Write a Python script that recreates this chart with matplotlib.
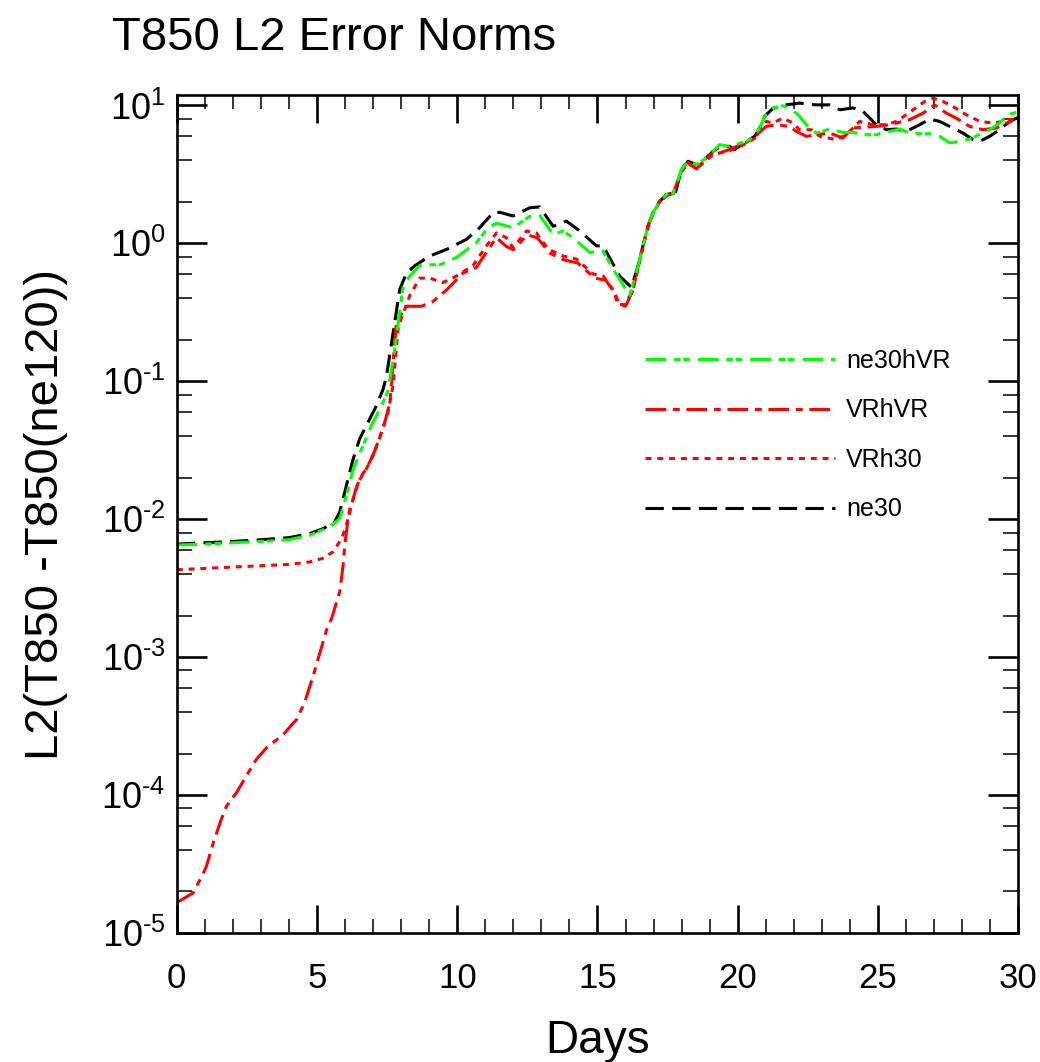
import matplotlib
matplotlib.use("Agg")
import matplotlib.pyplot as plt
import numpy as np
from matplotlib.ticker import LogLocator, MultipleLocator, NullFormatter, FuncFormatter

plt.rcParams['font.family'] = ['Liberation Sans', 'DejaVu Sans']
plt.rcParams['mathtext.fontset'] = 'custom'
plt.rcParams['mathtext.rm'] = 'Liberation Sans'
plt.rcParams['lines.scale_dashes'] = False

# ---- data (days, L2 error) ----
ne30_days = [0, 1, 2, 3, 4, 4.74, 5.22, 5.63, 5.81, 5.93, 6.11, 6.29, 6.52, 6.82, 7.12,
             7.36, 7.48, 7.72, 7.95, 8.19, 8.49, 9.02, 9.62, 10.33, 10.8, 11.28, 11.52,
             11.99, 12.58, 12.94, 13.42, 13.89, 14.37, 14.96, 15.2, 15.79, 16.21, 16.45,
             16.68, 16.8, 16.98, 17.22, 17.46, 17.7, 17.75, 17.99, 18.23, 18.53, 18.88,
             19.12, 19.36, 19.71, 19.89, 20.31, 20.61, 20.78, 20.96, 21.26, 21.73, 22.2,
             22.8, 23.28, 23.64, 24.11, 24.47, 24.71, 24.94, 25.3, 25.66, 26.01, 26.49,
             26.85, 27.2, 27.56, 28.03, 28.39, 28.63, 28.98, 29.34, 29.7, 30]
ne30_vals = [6.6e-3, 6.75e-3, 6.9e-3, 7.1e-3, 7.35e-3, 7.87e-3, 8.55e-3, 9.55e-3, 0.0113,
             0.0141, 0.0197, 0.0274, 0.0383, 0.0505, 0.0667, 0.088, 0.11, 0.23, 0.465, 0.61,
             0.69, 0.81, 0.905, 1.07, 1.30, 1.67, 1.68, 1.58, 1.81, 1.84, 1.33, 1.45, 1.23,
             0.96, 0.96, 0.58, 0.48, 0.69, 1.07, 1.33, 1.67, 2.02, 2.26, 2.32, 2.2, 3.43,
             3.94, 3.72, 4.17, 4.65, 5.0, 5.05, 4.79, 5.5, 5.97, 6.87, 8.33, 9.56, 10.1,
             10.4, 10.1, 10.1, 9.3, 9.6, 9.05, 8.1, 7.25, 6.67, 6.75, 6.49, 7.25, 7.97,
             7.66, 7.05, 6.31, 5.65, 5.5, 5.97, 6.67, 7.66, 8.2]

ne30hVR_days = [0, 1, 2, 3, 4, 4.74, 5.45, 5.81, 6.05, 6.29, 6.64, 6.94, 7.24, 7.53, 7.77,
                8.07, 8.31, 8.66, 8.9, 9.38, 9.97, 10.68, 11.1, 11.4, 11.99, 12.58, 12.94,
                13.42, 13.77, 14.13, 14.72, 15.2, 15.56, 16.15, 16.45, 16.68, 16.8, 16.98,
                17.22, 17.46, 17.7, 17.99, 18.23, 18.53, 18.88, 19.12, 19.36, 19.71, 20.31,
                20.61, 20.78, 20.96, 21.26, 21.61, 21.85, 22.15, 22.45, 22.8, 23.28, 23.75,
                24.11, 24.47, 24.94, 25.42, 25.78, 26.13, 26.61, 26.85, 27.2, 27.56, 27.91,
                28.27, 28.98, 29.34, 29.64, 30]
ne30hVR_vals = [6.5e-3, 6.6e-3, 6.75e-3, 6.9e-3, 7.1e-3, 7.65e-3, 8.8e-3, 0.0101, 0.0149,
                0.0232, 0.0342, 0.0478, 0.063, 0.085, 0.17, 0.49, 0.58, 0.69, 0.70, 0.70,
                0.79, 1.01, 1.30, 1.40, 1.30, 1.57, 1.59, 1.16, 1.23, 1.10, 0.86, 0.88, 0.65,
                0.42, 0.69, 1.07, 1.33, 1.67, 2.02, 2.26, 2.32, 3.43, 3.94, 3.72, 4.17, 4.65,
                5.2, 5.05, 5.5, 5.97, 6.87, 8.33, 9.56, 9.95, 9.56, 8.57, 7.25, 6.3, 6.75,
                6.38, 6.38, 6.14, 6.14, 6.49, 6.75, 6.31, 6.24, 6.24, 5.97, 5.35, 5.5, 5.71,
                6.67, 7.46, 8.57, 9.0]

vrh30_days = [0, 1, 2, 3, 4, 4.74, 5.2, 5.57, 5.87, 6.05, 6.17, 6.29, 6.47, 6.76, 7.0, 7.3,
              7.53, 7.71, 7.9, 8.31, 8.66, 9.02, 9.49, 9.97, 10.56, 11.04, 11.4, 11.75,
              11.99, 12.47, 12.82, 13.24, 13.77, 14.25, 14.84, 15.2, 15.56, 15.73, 15.97,
              16.27, 16.45, 16.68, 16.8, 16.98, 17.22, 17.46, 17.7, 17.99, 18.23, 18.53,
              18.88, 19.12, 19.36, 19.71, 20.31, 20.61, 20.78, 21.02, 21.26, 21.61, 21.97,
              22.2, 22.63, 22.93, 23.52, 23.75, 23.99, 24.35, 24.82, 25.3, 25.66, 26.01,
              26.25, 26.67, 26.96, 27.32, 27.67, 28.15, 28.63, 29.1, 29.46, 29.7, 30]
vrh30_vals = [4.3e-3, 4.4e-3, 4.5e-3, 4.6e-3, 4.7e-3, 4.9e-3, 5.2e-3, 5.8e-3, 7.2e-3, 9.0e-3,
              0.0119, 0.014, 0.0186, 0.0232, 0.029, 0.0428, 0.0597, 0.093, 0.25, 0.42, 0.56,
              0.56, 0.52, 0.58, 0.69, 0.96, 1.19, 1.10, 0.93, 1.23, 1.19, 0.91, 0.81, 0.77,
              0.60, 0.58, 0.46, 0.36, 0.36, 0.46, 0.66, 1.05, 1.3, 1.65, 2.0, 2.2, 2.3, 3.3,
              3.8, 3.47, 4.0, 4.4, 4.53, 4.7, 5.3, 5.8, 6.6, 7.66, 7.46, 8.1, 7.46, 6.67,
              6.67, 5.97, 5.65, 5.97, 6.49, 7.66, 7.25, 7.25, 7.66, 8.57, 9.3, 10.7, 11.3,
              10.7, 9.84, 8.57, 7.66, 7.46, 7.66, 7.88, 8.0]

vrhvr_days = [0, 0.58, 0.94, 1.06, 1.3, 1.59, 1.77, 2.13, 2.48, 2.84, 3.2, 3.79, 4.27, 4.56,
              4.86, 5.1, 5.34, 5.52, 5.81, 5.93, 5.99, 6.11, 6.23, 6.35, 6.52, 6.8, 7.05,
              7.35, 7.6, 7.83, 8.19, 8.72, 9.14, 9.62, 10.21, 10.68, 11.1, 11.4, 11.75, 12.0,
              12.5, 12.85, 13.3, 13.8, 14.3, 14.9, 15.3, 15.6, 15.79, 16.0, 16.27, 16.45,
              16.68, 16.8, 16.98, 17.22, 17.46, 17.7, 17.99, 18.23, 18.53, 18.88, 19.12,
              19.36, 19.71, 20.31, 20.61, 20.78, 21.02, 21.38, 21.85, 22.09, 22.45, 22.8,
              23.28, 23.75, 24.11, 24.94, 25.42, 26.13, 26.61, 27.02, 27.44, 27.79, 28.27,
              28.74, 29.22, 29.58, 30]
vrhvr_vals = [1.66e-5, 1.95e-5, 2.7e-5, 3.06e-5, 4.5e-5, 6.7e-5, 8.3e-5, 1.04e-4, 1.38e-4,
              1.82e-4, 2.2e-4, 2.74e-4, 3.53e-4, 4.7e-4, 7.3e-4, 1.07e-3, 1.58e-3, 1.91e-3,
              2.98e-3, 4.64e-3, 6.5e-3, 0.0101, 0.0126, 0.0157, 0.0197, 0.024, 0.031, 0.045,
              0.07, 0.27, 0.35, 0.35, 0.38, 0.46, 0.61, 0.67, 0.9, 1.1, 0.95, 0.9, 1.15, 1.1,
              0.85, 0.76, 0.72, 0.56, 0.54, 0.44, 0.36, 0.35, 0.46, 0.69, 1.07, 1.33, 1.67,
              2.02, 2.22, 2.3, 3.35, 3.85, 3.47, 4.17, 4.5, 4.53, 4.8, 5.4, 5.9, 6.4, 7.05,
              7.25, 7.05, 6.49, 5.97, 6.14, 6.31, 5.81, 6.87, 7.05, 7.25, 7.88, 8.8, 10.1,
              8.8, 8.1, 7.05, 6.67, 6.87, 7.46, 7.9]


def pow10(v, pos):
    # "10" with a superscript exponent, hyphen instead of a wide minus sign
    e = int(round(np.log10(v)))
    sign = r'\text{-}' if e < 0 else ''
    return r'$\mathdefault{10^{%s%d}}$' % (sign, abs(e))


fig = plt.figure(figsize=(10.4, 10.62), dpi=100)
ax = fig.add_axes([0.170, 0.1215, 0.809, 0.789])

lw = 2.2
l_ne30, = ax.plot(ne30_days, ne30_vals, color='black', lw=lw, dashes=(13.2, 6.0), label='ne30')
l_vrh30, = ax.plot(vrh30_days, vrh30_vals, color='red', lw=lw, dashes=(4.3, 4.2), label='VRh30')
l_vrhvr, = ax.plot(vrhvr_days, vrhvr_vals, color='red', lw=lw,
                   dashes=(14.9, 4.8, 5.0, 4.8), label='VRhVR')
l_hvr, = ax.plot(ne30hVR_days, ne30hVR_vals, color='#00ff00', lw=lw,
                 dashes=(14.9, 5.5, 4.8, 1.9, 4.8, 5.8), label='ne30hVR')

ax.set_yscale('log')
ax.set_xlim(0, 30)
ax.set_ylim(1e-5, 11.9)

ax.xaxis.set_major_locator(MultipleLocator(5))
ax.xaxis.set_minor_locator(MultipleLocator(1))
ax.yaxis.set_major_locator(LogLocator(base=10, numticks=20))
ax.yaxis.set_minor_locator(LogLocator(base=10, subs=[2, 4, 6, 8], numticks=20))
ax.yaxis.set_major_formatter(FuncFormatter(pow10))
ax.yaxis.set_minor_formatter(NullFormatter())

for s in ax.spines.values():
    s.set_linewidth(1.9)

ax.tick_params(which='both', direction='in', top=True, right=True)
ax.tick_params(axis='x', which='major', length=20, width=1.9, labelsize=25, pad=21)
ax.tick_params(axis='x', which='minor', length=10, width=1.1)
ax.tick_params(axis='y', which='major', length=21.6, width=1.9, labelsize=26, pad=8)
ax.tick_params(axis='y', which='minor', length=10.8, width=1.1)

ax.set_xlabel('Days', fontsize=33)
ax.xaxis.set_label_coords(0.5, -0.103)
ax.set_ylabel('L2(T850 -T850(ne120))', fontsize=34)
ax.yaxis.set_label_coords(-0.1296, 0.5)

fig.text(112 / 1040, 1 - 50 / 1062, 'T850 L2 Error Norms', fontsize=34,
         ha='left', va='baseline')

ax.legend(handles=[l_hvr, l_vrhvr, l_vrh30, l_ne30], loc='upper left',
          bbox_to_anchor=(0.5565, 0.697), frameon=False, fontsize=18,
          handlelength=7.6, handletextpad=0.44, labelspacing=1.02,
          borderpad=0, borderaxespad=0)

fig.savefig('out.png', dpi=100)
